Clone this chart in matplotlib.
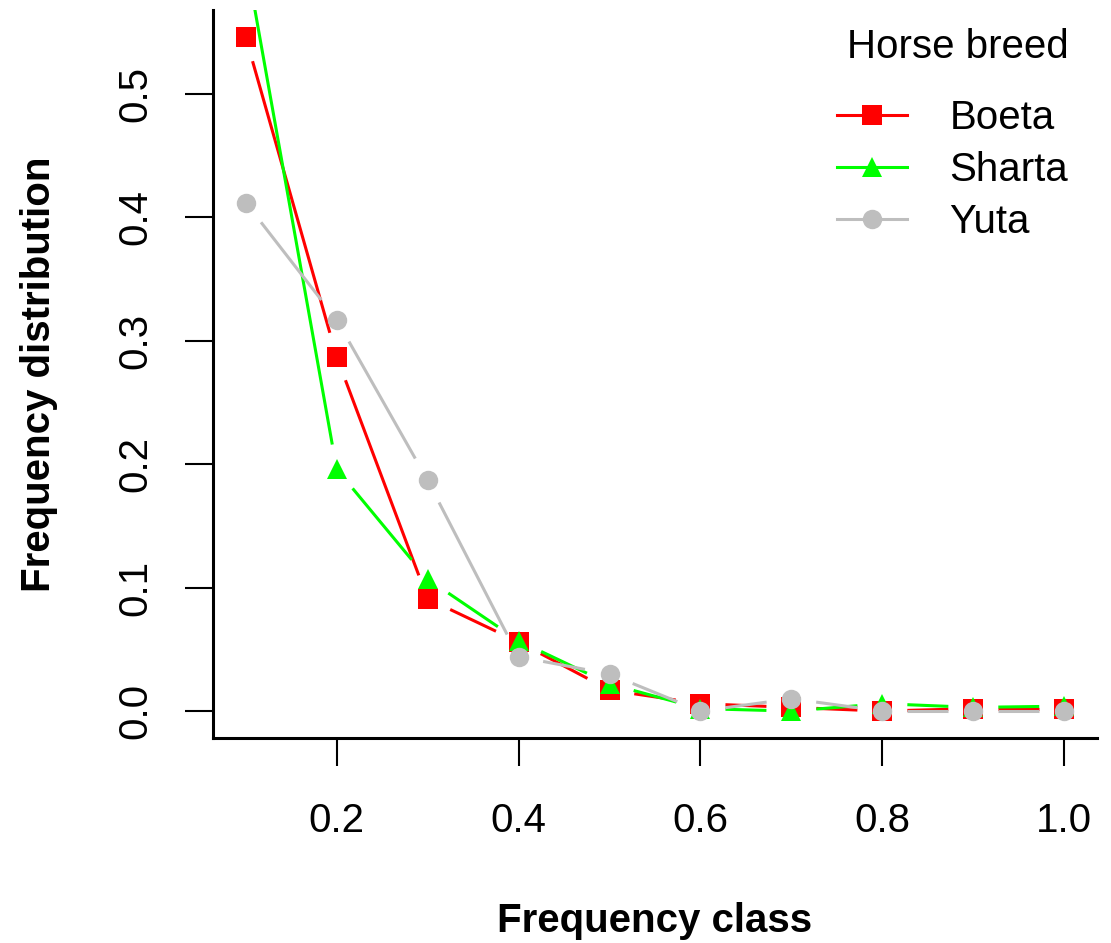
import matplotlib
matplotlib.use("Agg")
import matplotlib.pyplot as plt
from matplotlib.lines import Line2D
import numpy as np

plt.rcParams['font.family'] = ['Liberation Sans', 'DejaVu Sans']

# Data
freq_class = [0.1, 0.2, 0.3, 0.4, 0.5, 0.6, 0.7, 0.8, 0.9, 1.0]
boeta = [0.546, 0.287, 0.091, 0.056, 0.017, 0.006, 0.003, 0.000, 0.002, 0.002]
sharta = [0.610, 0.196, 0.107, 0.057, 0.022, 0.002, 0.000, 0.006, 0.003, 0.004]
yuta = [0.412, 0.317, 0.187, 0.044, 0.030, 0.000, 0.010, 0.000, 0.000, 0.000]
breeds = ["Boeta", "Sharta", "Yuta"]
colors = ["#FF0000", "#00FF00", "#BEBEBE"]
markers = ["s", "^", "o"]
msizes = [14, 15, 14]

fig = plt.figure(figsize=(11.11, 9.43), dpi=100)
ax = fig.add_axes([0.1917, 0.2174, 0.9874 - 0.1917, 0.9894 - 0.2174])
ax.set_xlim(0.064, 1.036)
ax.set_ylim(-0.0218, 0.568)

fig.canvas.draw()
gap = 25  # px, like R's type = "b"
for vals, col, mk, ms in zip([boeta, sharta, yuta], colors, markers, msizes):
    pts = ax.transData.transform(np.column_stack([freq_class, vals]))
    for p0, p1 in zip(pts[:-1], pts[1:]):
        d = p1 - p0
        L = np.hypot(*d)
        if L <= 2 * gap:
            continue
        u = d / L
        seg = ax.transData.inverted().transform([p0 + u * gap, p1 - u * gap])
        ax.plot(seg[:, 0], seg[:, 1], color=col, lw=2.2, solid_capstyle='butt')
    ax.plot(freq_class, vals, linestyle='none', marker=mk, markersize=ms,
            color=col, markeredgewidth=0)

for s in ['top', 'right']:
    ax.spines[s].set_visible(False)
for s in ['left', 'bottom']:
    ax.spines[s].set_linewidth(2.2)

ax.set_xticks([0.2, 0.4, 0.6, 0.8, 1.0])
ax.set_xticklabels(["0.2", "0.4", "0.6", "0.8", "1.0"])
ax.set_yticks([0.0, 0.1, 0.2, 0.3, 0.4, 0.5])
ax.set_yticklabels(["0.0", "0.1", "0.2", "0.3", "0.4", "0.5"], rotation=90, va='center')
ax.tick_params(length=20, width=1.5, labelsize=29)
ax.tick_params(axis='x', pad=26)
ax.tick_params(axis='y', pad=22)

ax.set_xlabel("Frequency class", fontsize=29, fontweight='bold', labelpad=45)
ax.set_ylabel("Frequency distribution", fontsize=29, fontweight='bold', labelpad=42)

# legend (title drawn apart to match R spacing)
handles = [Line2D([], [], color=c, lw=2.2, marker=m, markersize=ms, markeredgewidth=0)
           for c, m, ms in zip(colors, markers, msizes)]
ax.legend(handles, breeds, frameon=False, fontsize=29,
          loc='upper right', bbox_to_anchor=(0.9834, 0.9205),
          bbox_transform=fig.transFigure,
          handlelength=1.75, handletextpad=1.05, labelspacing=0.35,
          borderaxespad=0.2)
fig.text(0.8623, 0.9502, "Horse breed", fontsize=29, ha='center', va='center')

plt.savefig("out.png", dpi=100)
plt.close()
